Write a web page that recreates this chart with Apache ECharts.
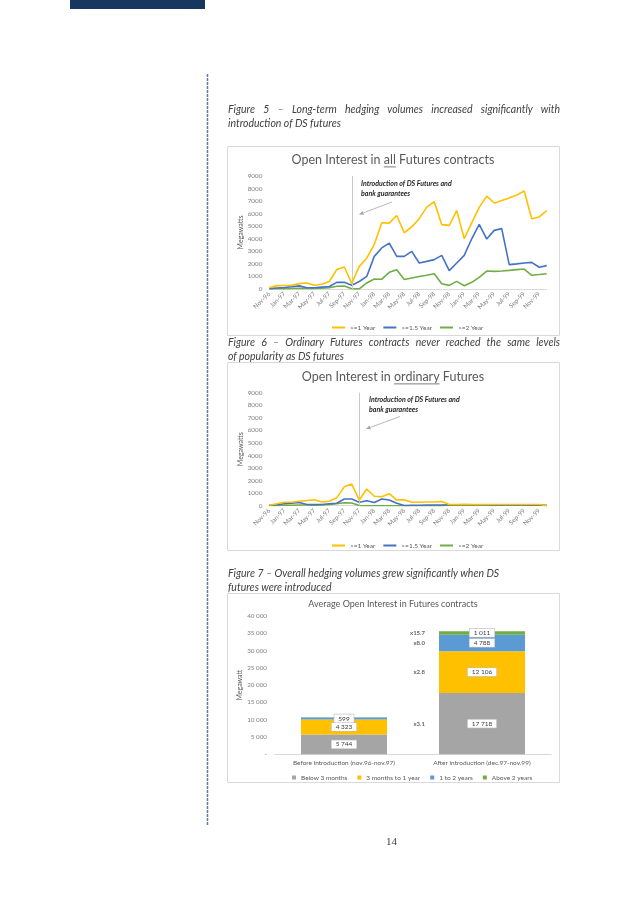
<!DOCTYPE html>
<html><head><meta charset="utf-8">
<script src="https://cdn.jsdelivr.net/npm/echarts@6/dist/echarts.min.js"></script>
<style>
html,body{margin:0;padding:0;background:#fff;}
#page{position:relative;width:636px;height:900px;overflow:hidden;background:#fff;}
#chart{position:absolute;left:0;top:0;width:636px;height:900px;}
.cap{position:absolute;left:228px;width:332px;font-family:Lato,'Open Sans',sans-serif;font-style:italic;font-size:10.5px;color:#404040;line-height:14px;white-space:nowrap;}
.j{text-align:justify;text-align-last:justify;}
#pnum{position:absolute;left:386px;top:835px;font-family:'Liberation Serif',serif;font-size:11px;color:#404040;}
</style></head>
<body><div id="page">
<div id="chart"></div>
<div class="cap" style="top:102px"><div class="j">Figure 5 – Long-term hedging volumes increased significantly with</div><div>introduction of DS futures</div></div>
<div class="cap" style="top:335px"><div class="j">Figure 6 – Ordinary Futures contracts never reached the same levels</div><div>of popularity as DS futures</div></div>
<div class="cap" style="top:566px"><div>Figure 7 – Overall hedging volumes grew significantly when DS</div><div>futures were introduced</div></div>
<div id="pnum">14</div>
</div>
<script>
// ---------- DATA ----------
const months = ['Nov-96','Dec-96','Jan-97','Feb-97','Mar-97','Apr-97','May-97','Jun-97','Jul-97','Aug-97','Sep-97','Oct-97','Nov-97','Dec-97','Jan-98','Feb-98','Mar-98','Apr-98','May-98','Jun-98','Jul-98','Aug-98','Sep-98','Oct-98','Nov-98','Dec-98','Jan-99','Feb-99','Mar-99','Apr-99','May-99','Jun-99','Jul-99','Aug-99','Sep-99','Oct-99','Nov-99','Dec-99'];
const seriesNames = ['>=1 Year','>=1.5 Year','>=2 Year'];
// Figure 5: all futures
const allGe1  = [100,270,280,300,430,480,300,380,600,1550,1750,450,1800,2450,3550,5280,5250,5850,4480,4950,5600,6520,6950,5130,5070,6240,4010,5260,6500,7400,6850,7040,7250,7480,7800,5600,5740,6240];
const allGe15 = [30,80,120,180,250,100,100,150,200,530,530,300,600,1000,2600,3270,3650,2600,2600,3000,2070,2200,2340,2680,1460,2070,2680,4000,5150,3980,4670,4810,1940,2000,2070,2120,1730,1860];
const allGe2  = [10,20,30,40,60,50,40,60,100,220,230,20,10,480,800,780,1330,1540,750,880,1000,1090,1220,420,290,610,260,530,930,1430,1400,1430,1480,1540,1590,1090,1150,1220];
// Figure 6: ordinary futures
const ordGe1  = [30,150,280,280,350,420,480,290,350,640,1500,1720,450,1330,750,720,960,450,480,270,280,300,300,330,100,100,120,100,100,100,100,100,100,100,100,100,100,0];
const ordGe15 = [30,80,150,200,250,100,100,100,150,200,530,530,280,400,250,530,450,200,20,30,40,50,60,60,70,80,80,80,70,50,40,30,30,30,30,30,30,20];
const ordGe2  = [10,20,30,40,60,50,40,60,100,150,230,220,10,0,0,0,0,0,0,0,0,0,0,0,40,40,40,40,40,40,40,40,40,40,40,40,40,40];
const introMonthAll = 'Oct-97';
const introMonthOrd = 'Nov-97';
// Figure 7: averages
const periods = ['Before introduction (nov.96-nov.97)','After introduction (dec.97-nov.99)'];
const maturityNames = ['Below 3 months','3 months to 1 year','1 to 2 years','Above 2 years'];
const below3m = [5744,17718];
const m3to1y  = [4323,12106];
const y1to2   = [599,4788];
const above2y = [64,1011];
const growthLabels = ['x3.1','x2.8','x8.0','x15.7'];

// ---------- STYLE ----------
const FONT = 'Lato, "Open Sans", sans-serif';
const lineColors = ['#ffc000','#4472c4','#70ad47'];
const barColors = ['#a5a5a5','#ffc000','#5b9bd5','#70ad47'];
const grey = '#7f7f7f', dark = '#595959';
const fmt = v => String(v).replace(/\B(?=(\d{3})+(?!\d))/g,' ');

const cvs = document.createElement('canvas').getContext('2d');
function tw(t, size){ cvs.font = size+'px '+FONT; return cvs.measureText(t).width; }

function arrow(x1,y1,x2,y2){
  const dx=x2-x1, dy=y2-y1, L=Math.hypot(dx,dy), ux=dx/L, uy=dy/L;
  const h=4.5, w=2, bx=x2-ux*h, by=y2-uy*h;
  return [
    {type:'line',shape:{x1,y1,x2:bx,y2:by},style:{stroke:'#a6a6a6',lineWidth:0.8}},
    {type:'polygon',shape:{points:[[x2,y2],[bx-uy*w,by+ux*w],[bx+uy*w,by-ux*w]]},style:{fill:'#a6a6a6'}}
  ];
}
function titleWithUnderline(pre, u, post, cx, cy, size){
  const w1=tw(pre,size), w2=tw(u,size), w3=tw(post,size), W=w1+w2+w3;
  const x0=cx-W/2;
  return [
    {type:'text',x:x0,y:cy,style:{text:pre+u+post,font:size+'px '+FONT,fill:dark,verticalAlign:'middle',align:'left'}},
    {type:'line',shape:{x1:x0+w1,y1:cy+size*0.55,x2:x0+w1+w2,y2:cy+size*0.55},style:{stroke:dark,lineWidth:0.8}}
  ];
}

const chart = echarts.init(document.getElementById('chart'), null, {renderer:'canvas'});

const gridsTop = [176, 392.7];
function lineAxes(i){
  return {
    x:{gridIndex:i,type:'category',data:months,boundaryGap:false,
       axisLine:{lineStyle:{color:'#d9d9d9'}},axisTick:{show:false},
       axisLabel:{interval:1,rotate:45,fontSize:6.3,color:grey,fontFamily:FONT,margin:4}},
    y:{gridIndex:i,type:'value',min:0,max:9000,interval:1000,
       splitLine:{show:false},axisLine:{show:false},axisTick:{show:false},
       axisLabel:{fontSize:6.3,color:grey,fontFamily:FONT,margin:7,formatter:v=>String(v)},
       name:'Megawatts',nameLocation:'middle',nameRotate:90,nameGap:24,
       nameTextStyle:{fontSize:7,color:dark,fontFamily:FONT}}
  };
}
const a0=lineAxes(0), a1=lineAxes(1);

function lines(i, arrs, intro){
  return arrs.map((d,k)=>({
    type:'line',name:seriesNames[k],xAxisIndex:i,yAxisIndex:i,data:d,
    symbol:'none',lineStyle:{width:1.6,color:lineColors[k]},itemStyle:{color:lineColors[k]},z:3-k+2,
    markLine: k===0 ? {silent:true,symbol:'none',label:{show:false},
      lineStyle:{color:'#c8c8c8',width:1,type:'solid'},data:[{xAxis:intro}]} : undefined
  }));
}

const stackVals=[below3m,m3to1y,y1to2,above2y];
const barSeries = stackVals.map((d,k)=>({
  type:'bar',name:maturityNames[k],stack:'avg',xAxisIndex:2,yAxisIndex:2,barWidth:86,
  itemStyle:{color:barColors[k]},
  data:d.map(v=>({value:v,label:{show:v>100}})),
  label:{show:true,position:'inside',formatter:p=>fmt(p.value),fontSize:6.5,color:'#404040',fontFamily:FONT,
    backgroundColor:'#fff',borderColor:'#bfbfbf',borderWidth:0.6,padding:[1,4,0,4]}
}));
// growth factor labels beside the "after" bar, at each segment middle
let cum=0; const mids=[];
stackVals.forEach(d=>{mids.push(cum+d[1]/2); cum+=d[1];});
const growthSeries = {
  type:'scatter',xAxisIndex:2,yAxisIndex:2,symbolSize:0,silent:true,
  data:mids.map((m,k)=>({value:[1,m],label:{formatter:growthLabels[k]}})),
  label:{show:true,position:'left',distance:57,fontSize:6,fontWeight:'bold',color:'#404040',fontFamily:FONT}
};

const graphics = [
  {type:'rect',shape:{x:70,y:0,width:135,height:9},style:{fill:'#17375e'}},
  {type:'line',shape:{x1:207.5,y1:74,x2:207.5,y2:826},style:{stroke:'#5b7bab',lineWidth:1.5,lineDash:[3,1]}},
  {type:'rect',shape:{x:227.5,y:146.5,width:332,height:189},style:{fill:'none',stroke:'#d9d9d9',lineWidth:1}},
  {type:'rect',shape:{x:227.5,y:362.5,width:332,height:188},style:{fill:'none',stroke:'#d9d9d9',lineWidth:1}},
  {type:'rect',shape:{x:227.5,y:593.5,width:332,height:189},style:{fill:'none',stroke:'#d9d9d9',lineWidth:1}},
  ...titleWithUnderline('Open Interest in ','all',' Futures contracts',393,160,12.5),
  ...titleWithUnderline('Open Interest in ','ordinary',' Futures',393,377,12.5),
  {type:'text',x:361,y:179,style:{text:'Introduction of DS Futures and\nbank guarantees',font:'italic bold 7px '+FONT,fill:'#262626',lineHeight:10}},
  {type:'text',x:369,y:394.5,style:{text:'Introduction of DS Futures and\nbank guarantees',font:'italic bold 7px '+FONT,fill:'#262626',lineHeight:10}},
  ...arrow(392,202,359,214.5),
  ...arrow(400,416.5,366,429),
  {type:'text',x:393,y:604,style:{text:'Average Open Interest in Futures contracts',font:'9px '+FONT,fill:dark,align:'center',verticalAlign:'middle'}}
];

const option = {
  animation:false,
  textStyle:{fontFamily:FONT},
  grid:[
    {left:269.3,width:277.4,top:gridsTop[0],height:113},
    {left:269.3,width:277.4,top:gridsTop[1],height:113},
    {left:275,width:276,top:616,height:138.3}
  ],
  xAxis:[a0.x,a1.x,
    {gridIndex:2,type:'category',data:periods,axisLine:{lineStyle:{color:'#d9d9d9'}},axisTick:{show:false},
     axisLabel:{fontSize:6.5,color:dark,fontFamily:FONT,margin:5}}],
  yAxis:[a0.y,a1.y,
    {gridIndex:2,type:'value',min:0,max:40000,interval:5000,splitLine:{show:false},axisLine:{show:false},axisTick:{show:false},
     axisLabel:{fontSize:6.3,color:grey,fontFamily:FONT,margin:8,formatter:v=>v===0?'-':fmt(v)},
     name:'Megawatt',nameLocation:'middle',nameRotate:90,nameGap:32,nameTextStyle:{fontSize:7,color:dark,fontFamily:FONT}}],
  legend:[
    {data:seriesNames,left:327,top:319,icon:'rect',itemWidth:13,itemHeight:2,itemGap:8,textStyle:{fontSize:6.5,color:dark,fontFamily:FONT},selectedMode:false},
    {data:seriesNames,left:327,top:537,icon:'rect',itemWidth:13,itemHeight:2,itemGap:8,textStyle:{fontSize:6.5,color:dark,fontFamily:FONT},selectedMode:false},
    {data:maturityNames,left:287,top:769,icon:'rect',itemWidth:4,itemHeight:4,itemGap:10,textStyle:{fontSize:6.5,color:dark,fontFamily:FONT},selectedMode:false}
  ],
  graphic:graphics,
  series:[...lines(0,[allGe1,allGe15,allGe2],introMonthAll), ...lines(1,[ordGe1,ordGe15,ordGe2],introMonthOrd), ...barSeries, growthSeries]
};
chart.setOption(option);
</script>
</body></html>
